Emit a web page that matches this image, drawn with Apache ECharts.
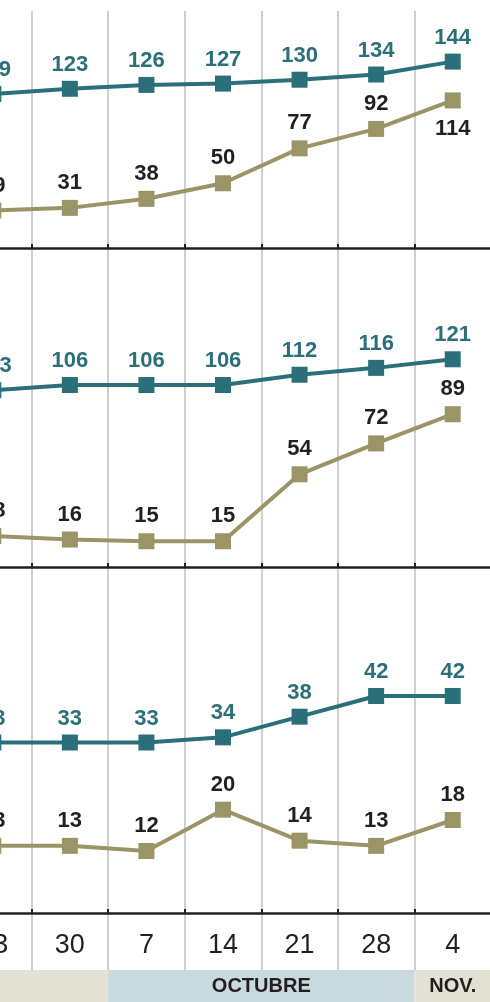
<!DOCTYPE html>
<html>
<head>
<meta charset="utf-8">
<script src="https://cdn.jsdelivr.net/npm/echarts@6/dist/echarts.min.js"></script>
<style>
html,body{margin:0;padding:0;background:#fff;overflow:hidden;width:490px;height:1002px;position:relative;}
#c{position:absolute;left:-45px;top:0;width:536px;height:1002px;}
</style>
</head>
<body>
<div id="c"></div>
<script>
const categories = ['23','30','7','14','21','28','4'];
const p1Teal  = [119,123,126,127,130,134,144];
const p1Olive = [29,31,38,50,77,92,114];
const p2Teal  = [103,106,106,106,112,116,121];
const p2Olive = [18,16,15,15,54,72,89];
const p3Teal  = [33,33,33,34,38,42,42];
const p3Olive = [13,13,12,20,14,13,18];
const p1OliveLabelBelow = [6];
const monthNames = ['', 'OCTUBRE', 'NOV.'];
const monthFrom  = [-0.5, 1.5, 5.5];
const monthTo    = [1.5, 5.5, 6.5];

const FONT = "'Liberation Sans','Arial',sans-serif";
const TEAL = '#2a6f7a';
const OLIVE = '#9a9466';
const INK = '#231f20';

const panels = [
  {top:15, height:233, max:180, teal:p1Teal, olive:p1Olive, below:p1OliveLabelBelow},
  {top:258, height:309, max:180, teal:p2Teal, olive:p2Olive, below:[]},
  {top:603, height:310, max:60, teal:p3Teal, olive:p3Olive, below:[]}
];

const grid = [], xAxis = [], yAxis = [], series = [];

// background vertical gridlines grid (index 0)
grid.push({left:0, right:0, top:11, height:959});
xAxis.push({type:'category', gridIndex:0, data:categories, boundaryGap:true,
  axisLine:{show:false}, axisTick:{show:false}, axisLabel:{show:false},
  splitLine:{show:true, interval:0, lineStyle:{color:'#c4c4c8', width:1.6}}});
yAxis.push({type:'value', gridIndex:0, show:false, min:0, max:1});

panels.forEach((p, i) => {
  const gi = i + 1;
  grid.push({left:0, right:0, top:p.top, height:p.height});
  xAxis.push({type:'category', gridIndex:gi, data:categories, boundaryGap:true,
    axisLine:{show:true, lineStyle:{color:INK, width:2.5}},
    axisTick:{show:true, inside:true, length:4, interval:0, lineStyle:{color:INK, width:2}},
    axisLabel:{show: i === 2, interval:0, margin:19, fontFamily:FONT, fontSize:27, color:INK},
    splitLine:{show:false}});
  yAxis.push({type:'value', gridIndex:gi, min:0, max:p.max, show:false});
  series.push({type:'line', xAxisIndex:gi, yAxisIndex:gi, data:p.teal,
    symbol:'rect', symbolSize:16, color:TEAL, lineStyle:{color:TEAL, width:4},
    itemStyle:{color:TEAL},
    label:{show:true, position:'top', distance:5, fontFamily:FONT, fontSize:22, fontWeight:'bold', color:TEAL},
    z:3});
  series.push({type:'line', xAxisIndex:gi, yAxisIndex:gi,
    data:p.olive.map((v, k) => p.below.includes(k) ? {value:v, label:{position:'bottom', distance:10}} : v),
    symbol:'rect', symbolSize:16, color:OLIVE, lineStyle:{color:OLIVE, width:4},
    itemStyle:{color:OLIVE},
    label:{show:true, position:'top', distance:6, fontFamily:FONT, fontSize:22, fontWeight:'bold', color:INK},
    z:2});
});

// month bar grid
const mg = panels.length + 1;
grid.push({left:0, right:0, top:970, height:32});
xAxis.push({type:'value', gridIndex:mg, min:-0.5, max:6.5, show:false});
yAxis.push({type:'value', gridIndex:mg, min:0, max:1, show:false});
series.push({type:'line', xAxisIndex:mg, yAxisIndex:mg, data:[[0,0]], symbol:'none',
  lineStyle:{opacity:0}, silent:true,
  markArea:{silent:true,
    data: monthNames.map((m, k) => [
      {xAxis:monthFrom[k], yAxis:0, name:m,
       itemStyle:{color: m === 'OCTUBRE' ? '#c8dadd' : '#e3e1d3'}},
      {xAxis:monthTo[k], yAxis:1}
    ]),
    label:{show:true, position:'inside', fontFamily:FONT, fontSize:20, fontWeight:'bold', color:INK}
  }});

const chart = echarts.init(document.getElementById('c'), null, {renderer:'canvas'});
chart.setOption({animation:false, backgroundColor:'#fff', grid, xAxis, yAxis, series});
</script>
</body>
</html>
